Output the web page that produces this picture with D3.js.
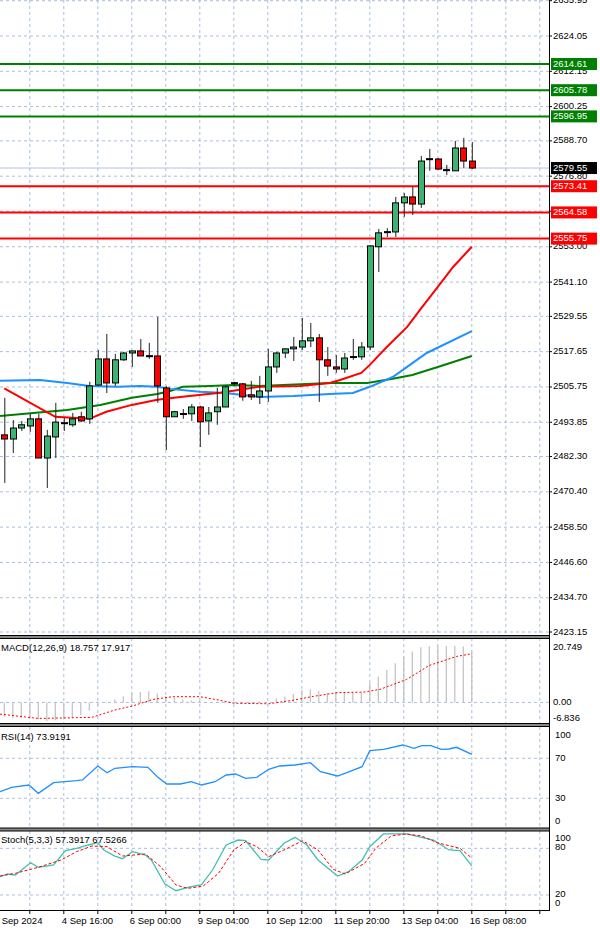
<!DOCTYPE html>
<html><head><meta charset="utf-8">
<script src="https://cdn.jsdelivr.net/npm/d3@7"></script>
<style>body{margin:0;background:#fff}svg{display:block;font-family:"Liberation Sans",Arial,sans-serif}</style>
</head><body><div id="main"></div>
<script>
// candles: [open, high, low, close], H4 bars
const candles = [
  [2489.6,2502.1,2473.4,2488.2],[2488.2,2494.6,2483.5,2491.9],[2491.9,2494.3,2490.9,2493.0],[2492.6,2496.7,2490.6,2495.0],
  [2495.0,2496.7,2481.8,2481.8],[2481.8,2491.3,2471.7,2489.2],[2488.9,2500.4,2481.8,2493.9],[2493.6,2495.3,2490.9,2493.7],
  [2493.0,2497.0,2492.3,2495.0],[2495.7,2497.4,2494.0,2494.3],[2495.0,2507.5,2493.3,2506.1],[2506.4,2518.2,2506.1,2515.2],
  [2515.2,2523.6,2503.7,2507.1],[2507.1,2516.9,2506.1,2514.9],[2514.9,2517.6,2514.5,2517.2],[2517.2,2517.9,2512.5,2517.9],
  [2517.9,2521.9,2516.2,2516.2],[2516.2,2520.6,2515.2,2516.3],[2516.2,2529.4,2500.4,2506.1],[2505.4,2506.1,2484.5,2495.7],
  [2495.7,2497.7,2495.7,2497.4],[2496.7,2498.3,2495.0,2496.8],[2496.7,2500.0,2494.3,2499.0],[2499.0,2499.4,2485.5,2494.0],
  [2494.3,2499.0,2489.6,2497.0],[2497.4,2505.4,2493.0,2499.0],[2499.0,2506.4,2499.0,2505.8],[2507.1,2507.5,2506.1,2507.2],
  [2506.8,2507.1,2501.1,2502.4],[2503.1,2507.8,2501.4,2502.4],[2502.4,2509.5,2500.0,2504.4],[2504.4,2518.6,2500.7,2512.5],
  [2512.5,2517.6,2510.5,2517.2],[2517.2,2518.6,2515.5,2518.6],[2518.6,2522.6,2514.5,2519.2],[2519.2,2529.0,2518.2,2521.3],
  [2521.3,2527.3,2519.2,2522.3],[2522.3,2523.6,2500.7,2514.9],[2514.9,2519.2,2509.5,2512.8],[2512.5,2516.5,2510.5,2511.8],
  [2511.8,2517.2,2510.5,2515.5],[2515.9,2521.9,2514.9,2516.0],[2515.9,2520.9,2514.9,2519.2],[2519.2,2553.6,2518.2,2553.3],
  [2553.0,2559.0,2544.5,2557.7],[2558.0,2559.3,2556.3,2558.1],[2558.0,2569.8,2556.3,2567.8],[2567.8,2571.1,2563.1,2569.8],
  [2569.8,2573.2,2563.7,2567.4],[2567.4,2583.6,2566.1,2581.9],[2582.6,2585.97,2578.6,2582.7],[2582.6,2582.9,2578.9,2579.2],
  [2578.9,2580.6,2577.2,2579.0],[2578.6,2588.7,2578.6,2586.3],[2586.3,2589.7,2579.6,2581.9],[2581.9,2588.3,2579.2,2579.55]
];
// moving averages read as [bar index, price]
const maRed = [[0,2505.3],[6,2495.7],[10,2495.0],[12,2497.4],[15,2499.7],[18,2501.4],[20.7,2502.4],[25.4,2503.8],[30,2505.8],[34.8,2506.1],[38.3,2507.1],[39.5,2508.1],[42,2510.5],[43,2513.2],[45,2519.2],[47.4,2526.0],[48.9,2531.7],[51,2539.5],[52.8,2546.2],[55,2553.0]];
const maBlue = [[-0.5,2507.8],[4.2,2508.1],[7.4,2507.1],[10,2506.1],[13.3,2505.8],[16,2506.1],[18,2505.8],[19.5,2505.1],[23,2504.1],[26,2503.7],[30,2502.4],[34,2502.7],[38.3,2503.4],[41,2503.7],[43,2505.8],[45.7,2509.1],[49.7,2517.2],[55,2524.6]];
const maGreen = [[-0.5,2496.0],[3.4,2497.0],[7.4,2498.0],[11.3,2499.7],[15,2502.1],[18,2503.4],[19.5,2504.4],[21,2505.8],[24.2,2506.1],[27,2506.4],[30,2506.1],[38.3,2507.1],[42.7,2507.1],[45.7,2508.5],[48,2509.8],[51,2512.5],[55,2516.2]];
const levelsGreen = [2614.61, 2605.78, 2596.95];
const levelsRed = [2573.41, 2564.58, 2555.75];
const lastPrice = 2579.55;
const priceTicks = [2635.95,2624.05,2612.15,2600.25,2588.70,2576.80,2565.00,2553.00,2541.10,2529.55,2517.65,2505.75,2493.85,2482.30,2470.40,2458.50,2446.60,2434.70,2423.15];
const macdHist = [-5.3,-5.8,-5.8,-5.6,-6.2,-6.8,-6.6,-6.2,-5.6,-4.6,-3.0,-1.2,0.2,1.1,2.3,3.5,3.8,4.1,3.3,2.3,1.7,1.1,0.7,0.5,0.1,-0.2,-0.2,-0.3,-0.4,-0.4,-0.3,-0.1,1.5,2.1,3.1,4.6,4.8,4.2,3.6,3.9,3.6,3.6,3.6,7.2,9.5,11.9,14.4,16.8,18.6,20.3,20.7,20.7,20.749,20.749,20.6,18.757];
const macdSignal = [[-0.5,-4.3],[4,-5.9],[10.3,-5.5],[13,-2.8],[15.1,-1.3],[17.5,1.1],[19.8,2.1],[23,2.1],[25.2,0.9],[27,-0.3],[31.1,-0.5],[33.8,0.7],[36.5,2.3],[39.2,3.6],[42.3,3.8],[44.2,4.8],[47.3,8.4],[50,13.6],[53.2,16.9],[55,17.917]];
const rsi = [[-0.5,36.6],[0.85,41],[2.9,43.3],[4,35],[5.8,45.6],[8.5,47.6],[9.2,48.3],[11,62.3],[12.1,55.6],[13,60],[15.1,61.6],[16.9,61],[18,51.6],[19.1,44.3],[20.7,44.3],[22,46.6],[23.2,43.3],[24.8,46.6],[26.1,53.3],[27.2,54.3],[28.4,50],[29.7,51],[31.1,59],[32.4,62.3],[34.2,63.3],[36,65.6],[37.2,56.6],[39.2,52.3],[40.3,55.6],[42.1,61.6],[43,77.6],[44.6,79],[46.9,83.3],[48.2,80],[49.1,82.6],[50.2,82.6],[51.4,79],[52.3,79.3],[53.2,81],[55,73.9191]];
const stochMain = [[-0.5,43.5],[0.4,47],[1.3,45.7],[3.1,61.5],[4,55.6],[5.8,58.6],[7.2,77],[8.5,80],[9.9,84.3],[11,87.3],[11.7,77.9],[13,70.1],[13.9,66.7],[15.1,75.7],[16.6,71.4],[17.3,65],[18.9,34.1],[20.2,25.5],[21.6,29.9],[23.2,33.2],[24.5,52.1],[26.1,84.3],[27.5,90.7],[28.4,89.8],[30.2,65.9],[31.1,65],[32.9,86.5],[34.2,94.2],[35.6,84.3],[36.9,65],[39.2,44.4],[40.5,50],[42.1,65],[43,82.1],[44.6,98.5],[47.3,98.5],[49.1,94.2],[50.5,90.7],[52.3,77.9],[53.6,77],[55,57.3917]];
const stochSignal = [[-0.5,44.4],[1.3,47.8],[4,55.6],[6.7,65],[8.5,75.7],[10.3,83],[12.1,82.1],[13.9,70.1],[16.6,72.7],[18.4,56.4],[20.2,32.8],[21.6,28.5],[23.4,31.5],[25.2,47.8],[27,77.9],[28.4,88.6],[29.7,82.1],[31.1,69.3],[32.9,77.9],[35.1,89.8],[36.9,77.9],[38.7,53],[40.1,47],[42.4,60.7],[43.7,80],[45.5,95.9],[47.3,98.5],[49.1,95.9],[50.9,87.3],[53.6,80],[55,67.5266]];
const dateLabels = [[-1,'3 Sep 2024'],[7,'4 Sep 16:00'],[15,'6 Sep 00:00'],[23,'9 Sep 04:00'],[31,'10 Sep 12:00'],[39,'11 Sep 20:00'],[47,'13 Sep 04:00'],[55,'16 Sep 08:00']];

const W = 600, H = 930, axisX = 549;
const GRID = '#a9bedb';
const svg = d3.select('#main').append('svg').attr('width', W).attr('height', H);

const sx = d3.scaleLinear().domain([0, 55]).range([4.3, 471.8]);
const sy = d3.scaleLinear().domain([2423.15, 2624.05]).range([632, 36]);
const sm = d3.scaleLinear().domain([-6.836, 20.749]).range([721, 646]);
const sr = d3.scaleLinear().domain([0, 100]).range([828.3, 728.3]);
const ss = d3.scaleLinear().domain([0, 100]).range([910.5, 832.8]);

const panels = [[0, 636], [638, 724], [727, 828.5], [831, 910]];
const clipG = (i) => {
  const id = 'c' + i, [t, b] = panels[i];
  svg.append('clipPath').attr('id', id).append('rect').attr('x', 0).attr('y', t).attr('width', axisX).attr('height', b - t);
  return svg.append('g').attr('clip-path', `url(#${id})`);
};

// vertical grid every 4 bars
const vg = d3.range(-1, 16).map(k => 3 + 4 * k);
panels.forEach((p, i) => {
  const g = clipG(i);
  g.selectAll('line').data(vg).join('line')
    .attr('x1', d => sx(d)).attr('x2', d => sx(d)).attr('y1', p[0]).attr('y2', p[1])
    .attr('stroke', GRID).attr('stroke-dasharray', '3,3');
});

// main panel
const gm = clipG(0);
gm.append('g').selectAll('line').data(priceTicks).join('line')
  .attr('x1', 0).attr('x2', axisX).attr('y1', d => sy(d)).attr('y2', d => sy(d))
  .attr('stroke', GRID).attr('stroke-dasharray', '3,3');
gm.append('line').attr('x1', 0).attr('x2', axisX).attr('y1', sy(lastPrice)).attr('y2', sy(lastPrice)).attr('stroke', '#b4c4d8');
levelsGreen.forEach(v => gm.append('line').attr('x1', 0).attr('x2', axisX).attr('y1', sy(v)).attr('y2', sy(v)).attr('stroke', '#008000').attr('stroke-width', 2));
levelsRed.forEach(v => gm.append('line').attr('x1', 0).attr('x2', axisX).attr('y1', sy(v)).attr('y2', sy(v)).attr('stroke', '#ff0000').attr('stroke-width', 2));

const line = (ys) => d3.line().x(d => sx(d[0])).y(d => ys(d[1]));
[[maGreen, '#008000'], [maBlue, '#1e90ff'], [maRed, '#ff0000']].forEach(([d, c]) =>
  gm.append('path').attr('d', line(sy)(d)).attr('fill', 'none').attr('stroke', c).attr('stroke-width', 2));

const cg = gm.append('g');
cg.selectAll('line').data(candles).join('line')
  .attr('x1', (d, i) => sx(i) + 0.5).attr('x2', (d, i) => sx(i) + 0.5)
  .attr('y1', d => sy(d[1])).attr('y2', d => sy(d[2])).attr('stroke', '#222');
cg.selectAll('rect').data(candles).join('rect')
  .attr('x', (d, i) => Math.round(sx(i)) - 2.5).attr('width', 6)
  .attr('y', d => sy(Math.max(d[0], d[3]))).attr('height', d => Math.max(1, Math.abs(sy(d[0]) - sy(d[3]))))
  .attr('fill', d => d[3] >= d[0] ? '#3cb371' : '#ff0000').attr('stroke', '#000').attr('stroke-width', 1);

// MACD
const g1 = clipG(1);
g1.append('line').attr('x1', 0).attr('x2', axisX).attr('y1', sm(0)).attr('y2', sm(0)).attr('stroke', GRID).attr('stroke-dasharray', '3,3');
g1.selectAll('line.h').data(macdHist).join('line').attr('class', 'h')
  .attr('x1', (d, i) => sx(i)).attr('x2', (d, i) => sx(i)).attr('y1', sm(0)).attr('y2', d => sm(d))
  .attr('stroke', '#c0c0c0').attr('stroke-width', 1.2);
g1.append('path').attr('d', line(sm)(macdSignal)).attr('fill', 'none').attr('stroke', '#ff0000').attr('stroke-dasharray', '2,2');

// RSI
const g2 = clipG(2);
[70, 30].forEach(v => g2.append('line').attr('x1', 0).attr('x2', axisX).attr('y1', sr(v)).attr('y2', sr(v)).attr('stroke', GRID).attr('stroke-dasharray', '3,3'));
g2.append('path').attr('d', line(sr)(rsi)).attr('fill', 'none').attr('stroke', '#1e90ff').attr('stroke-width', 1.3);

// Stoch
const g3 = clipG(3);
[80, 20].forEach(v => g3.append('line').attr('x1', 0).attr('x2', axisX).attr('y1', ss(v)).attr('y2', ss(v)).attr('stroke', GRID).attr('stroke-dasharray', '3,3'));
g3.append('path').attr('d', line(ss)(stochMain)).attr('fill', 'none').attr('stroke', '#40c0b0').attr('stroke-width', 1.3);
g3.append('path').attr('d', line(ss)(stochSignal)).attr('fill', 'none').attr('stroke', '#ff0000').attr('stroke-dasharray', '3,2');

// panel borders
[636, 724, 828.5].forEach(y => {
  svg.append('rect').attr('x', 0).attr('y', y - 0.5).attr('width', axisX).attr('height', 3).attr('fill', '#888');
  svg.append('line').attr('x1', 0).attr('x2', axisX).attr('y1', y - 0.5).attr('y2', y - 0.5).attr('stroke', '#000');
  svg.append('line').attr('x1', 0).attr('x2', axisX).attr('y1', y + 2.5).attr('y2', y + 2.5).attr('stroke', '#000');
});
svg.append('line').attr('x1', 0).attr('x2', axisX).attr('y1', 910.5).attr('y2', 910.5).attr('stroke', '#000');
svg.append('line').attr('x1', axisX + 0.5).attr('x2', axisX + 0.5).attr('y1', 0).attr('y2', 911).attr('stroke', '#000');

// axis labels
const txt = (x, y, s, o = {}) => svg.append('text').attr('x', x).attr('y', y).text(s)
  .attr('font-size', o.size || 9.5).attr('fill', o.fill || '#000').attr('dominant-baseline', 'middle');
svg.append('g').selectAll('line').data(priceTicks).join('line')
  .attr('x1', axisX).attr('x2', axisX + 3).attr('y1', d => sy(d)).attr('y2', d => sy(d)).attr('stroke', '#000');
priceTicks.forEach(v => txt(553, sy(v), v.toFixed(2)));

const box = (v, fill) => {
  svg.append('rect').attr('x', 551).attr('y', sy(v) - 6).attr('width', 46).attr('height', 12).attr('fill', fill);
  txt(553, sy(v), v.toFixed(2), { fill: '#fff' });
};
levelsGreen.forEach(v => box(v, '#008000'));
levelsRed.forEach(v => box(v, '#ff0000'));
box(lastPrice, '#000');

[[20.749, '20.749'], [0, '0.00'], [-6.836, '-6.836']].forEach(([v, s], i) => txt(553, i === 2 ? 718 : sm(v) + (i === 0 ? 1 : 0), s));
[[100, 735], [70, 758], [30, 798], [0, 821]].forEach(([v, y]) => txt(555, y, v));
[[100, 838], [80, 847], [20, 894], [0, 903]].forEach(([v, y]) => txt(555, y, v));

txt(1, 648, 'MACD(12,26,9) 18.757 17.917');
txt(1, 737, 'RSI(14) 73.9191');
txt(1, 840, 'Stoch(5,3,3) 57.3917 67.5266');

svg.append('g').selectAll('line').data(vg).join('line')
  .attr('x1', d => sx(d)).attr('x2', d => sx(d)).attr('y1', 910).attr('y2', 914).attr('stroke', '#000');
dateLabels.forEach(([i, s]) => txt(sx(i) - 2, 921, s));
</script></body></html>
